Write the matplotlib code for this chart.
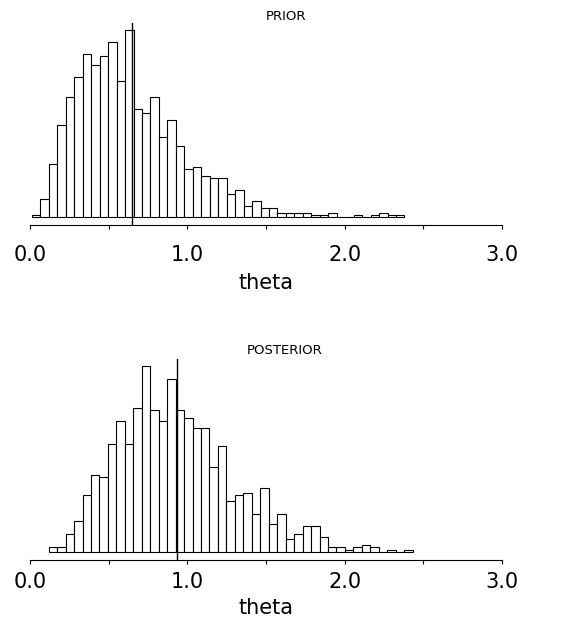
import matplotlib
matplotlib.use("Agg")
import matplotlib.pyplot as plt
import numpy as np

plt.rcParams['font.family'] = ['DejaVu Sans']

# histogram counts
bin_width = 0.0538
prior_start = 0.0127
prior_counts = [1, 8, 23, 40, 52, 61, 71, 66, 70, 76, 59, 81, 47, 45, 52, 35,
                42, 31, 21, 22, 18, 17, 17, 10, 12, 5, 7, 4, 4, 2, 2, 2,
                2, 1, 1, 2, 0, 0, 1, 0, 1, 2, 1, 1]
prior_line = 0.646

post_start = 0.1186
post_counts = [2, 2, 7, 12, 22, 30, 29, 42, 51, 42, 56, 72, 55, 51, 67, 55,
               52, 48, 48, 33, 41, 20, 22, 23, 15, 25, 11, 15, 5, 7, 10, 10,
               6, 2, 2, 1, 2, 3, 2, 0, 1, 0, 1]
post_line = 0.934

tick_pos = [0.0, 0.5, 1.0, 1.5, 2.0, 2.5, 3.0]
tick_lab = ['0.0', '', '1.0', '', '2.0', '', '3.0']

fig = plt.figure(figsize=(5.61, 6.28), dpi=100)
W, H = 561.0, 628.0


def panel(rect, start, counts, vline, title, title_xy, pad, label_y):
    ax = fig.add_axes(rect)
    counts = np.array(counts)
    edges = start + bin_width * np.arange(len(counts))
    ax.bar(edges, counts, width=bin_width, align='edge', color='white',
           edgecolor='black', linewidth=0.8)
    ax.axvline(vline, color='black', linewidth=1.0)
    ymax = counts.max()
    ax.set_xlim(-0.12, 3.12)
    ax.set_ylim(-0.04 * ymax, 1.04 * ymax)
    for s in ['left', 'right', 'top']:
        ax.spines[s].set_visible(False)
    ax.spines['bottom'].set_bounds(0, 3)
    ax.spines['bottom'].set_linewidth(0.8)
    ax.set_yticks([])
    ax.set_xticks(tick_pos)
    ax.set_xticklabels(tick_lab, fontsize=15)
    ax.tick_params(axis='x', direction='out', length=3, width=0.8, pad=pad)
    ax.patch.set_alpha(0)
    fig.text(title_xy[0] / W, 1 - title_xy[1] / H, title, fontsize=9.5,
             ha='center', va='center')
    fig.text(266 / W, 1 - label_y / H, 'theta', fontsize=15,
             ha='center', va='center')
    return ax


panel([11.1 / W, 1 - 224.7 / H, 509.8 / W, 201.7 / H], prior_start,
      prior_counts, prior_line, 'PRIOR', (286, 16.7), 11.5, 283)
panel([11.1 / W, 1 - 559.7 / H, 509.8 / W, 200.7 / H], post_start,
      post_counts, post_line, 'POSTERIOR', (285, 350.7), 6, 608)

fig.savefig('out.png', dpi=100)
